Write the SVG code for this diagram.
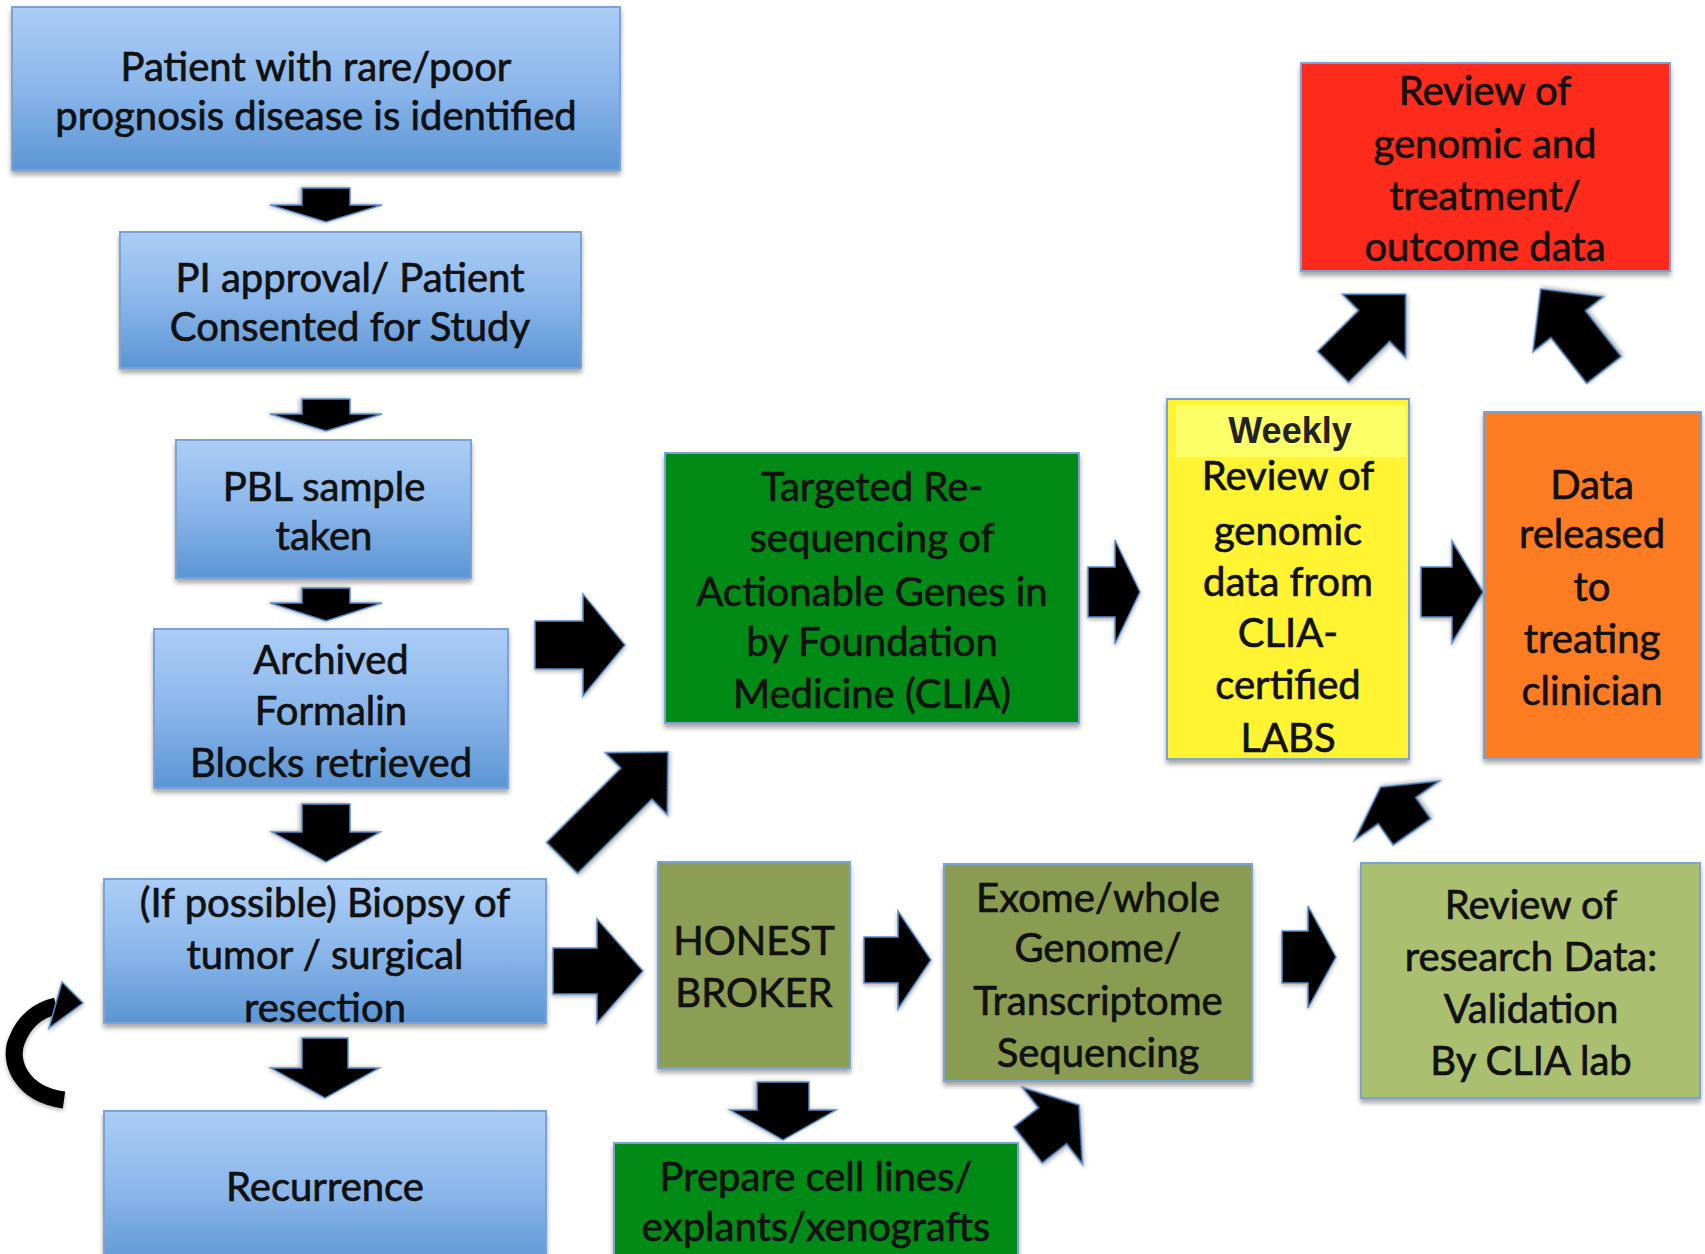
<svg xmlns="http://www.w3.org/2000/svg" width="1705" height="1254" viewBox="0 0 1705 1254">
<defs>
<linearGradient id="blue" x1="0" y1="0" x2="0" y2="1">
<stop offset="0" stop-color="#abcdf7"/>
<stop offset="0.5" stop-color="#8bb6ea"/>
<stop offset="1" stop-color="#5b95d4"/>
</linearGradient>
<filter id="sh" x="-5%" y="-5%" width="110%" height="115%">
<feDropShadow dx="0" dy="4" stdDeviation="2.5" flood-color="#000" flood-opacity="0.35"/>
</filter>
<filter id="ash" x="-20%" y="-20%" width="140%" height="140%">
<feDropShadow dx="0" dy="2" stdDeviation="2" flood-color="#000" flood-opacity="0.3"/>
</filter>
<style>
.box{stroke:#7aa3d3;stroke-width:2;filter:url(#sh)}
.bl{fill:url(#blue)}
.t{font-family:Lato,"Liberation Sans",sans-serif;font-size:40px;fill:#111;stroke:#111;stroke-width:0.7;text-anchor:middle}
.wk{font-family:"Liberation Sans",Arial,sans-serif;font-size:36px;font-weight:bold;fill:#222;text-anchor:middle}
.ar{fill:#000;stroke:#5a8ec8;stroke-width:1.5;stroke-linejoin:miter;filter:url(#ash)}
.cv{fill:none;stroke:#000;stroke-width:17;filter:url(#ash)}
</style>
</defs>
<rect width="1705" height="1254" fill="#fff"/>

<g id="connectors">
<polygon class="ar" transform="translate(326,188) rotate(90)" points="0,-24 17,-24 17,-56 34,0 17,56 17,24 0,24"/>
<polygon class="ar" transform="translate(326,399) rotate(90)" points="0,-24 15,-24 15,-56 32,0 15,56 15,24 0,24"/>
<polygon class="ar" transform="translate(326,588) rotate(90)" points="0,-24 15,-24 15,-56 33,0 15,56 15,24 0,24"/>
<polygon class="ar" transform="translate(326,804) rotate(90)" points="0,-24 28,-24 28,-54 58,0 28,54 28,24 0,24"/>
<polygon class="ar" transform="translate(325,1038) rotate(90)" points="0,-23 30,-23 30,-54 60,0 30,54 30,23 0,23"/>
<polygon class="ar" transform="translate(535,645)" points="0,-24 48,-24 48,-51 90,0 48,51 48,24 0,24"/>
<polygon class="ar" transform="translate(562,858) rotate(-45)" points="0,-22 105,-22 105,-44 150,0 105,44 105,22 0,22"/>
<polygon class="ar" transform="translate(553,971)" points="0,-23 44,-23 44,-52 90,0 44,52 44,23 0,23"/>
<polygon class="ar" transform="translate(864,960)" points="0,-23 34,-23 34,-49 67,0 34,49 34,23 0,23"/>
<polygon class="ar" transform="translate(783,1082) rotate(90)" points="0,-26 28,-26 28,-53 58,0 28,53 28,26 0,26"/>
<polygon class="ar" transform="translate(1028,1145) rotate(-38)" points="0,-23 31,-23 31,-49 65,0 31,49 31,23 0,23"/>
<polygon class="ar" transform="translate(1282,957)" points="0,-26 26,-26 26,-51 54,0 26,51 26,26 0,26"/>
<polygon class="ar" transform="translate(1412,832) rotate(-125)" points="0,-23 26,-23 26,-52 55,0 26,52 26,23 0,23"/>
<polygon class="ar" transform="translate(1088,592)" points="0,-25 27,-25 27,-52 52,0 27,52 27,25 0,25"/>
<polygon class="ar" transform="translate(1421,592)" points="0,-25 31,-25 31,-51 62,0 31,51 31,25 0,25"/>
<polygon class="ar" transform="translate(1333,367) rotate(-45)" points="0,-22 58,-22 58,-45 103,0 58,45 58,22 0,22"/>
<polygon class="ar" transform="translate(1604,370) rotate(-128)" points="0,-22 58,-22 58,-45 103,0 58,45 58,22 0,22"/>
<path class="cv" d="M 64 1100 C 20 1094, 8 1060, 17 1040 C 24 1022, 38 1010, 56 1006"/>
<polygon class="ar" points="62,982 83,1003 49,1028"/>
</g>

<g id="n1"><rect class="box bl" x="12" y="7" width="608" height="163"/>
<text class="t" x="316" y="81">Patient with rare/poor</text>
<text class="t" x="316" y="130">prognosis disease is identified</text></g>

<g id="n2"><rect class="box bl" x="120" y="232" width="461" height="136"/>
<text class="t" x="350" y="292">PI approval/ Patient</text>
<text class="t" x="350" y="341">Consented for Study</text></g>

<g id="n3"><rect class="box bl" x="176" y="440" width="295" height="138"/>
<text class="t" x="324" y="501">PBL sample</text>
<text class="t" x="324" y="550">taken</text></g>

<g id="n4"><rect class="box bl" x="154" y="629" width="354" height="159"/>
<text class="t" x="331" y="674">Archived</text>
<text class="t" x="331" y="725">Formalin</text>
<text class="t" x="331" y="777">Blocks retrieved</text></g>

<g id="n5"><rect class="box bl" x="104" y="879" width="442" height="144"/>
<text class="t" x="325" y="917">(If possible) Biopsy of</text>
<text class="t" x="325" y="969">tumor / surgical</text>
<text class="t" x="325" y="1022">resection</text></g>

<g id="n6"><rect class="box bl" x="104" y="1111" width="442" height="160"/>
<text class="t" x="325" y="1201">Recurrence</text></g>

<g id="n7"><rect class="box" fill="#008a17" x="665" y="453" width="414" height="270"/>
<text class="t" x="872" y="501">Targeted Re-</text>
<text class="t" x="872" y="552">sequencing of</text>
<text class="t" x="872" y="606">Actionable Genes in</text>
<text class="t" x="872" y="656">by Foundation</text>
<text class="t" x="872" y="708">Medicine (CLIA)</text></g>

<g id="n8"><rect class="box" fill="#fff332" x="1167" y="399" width="242" height="360"/>
<rect x="1176" y="405" width="230" height="52" fill="#ffff66"/>
<text class="wk" x="1290" y="443">Weekly</text>
<text class="t" x="1288" y="490">Review of</text>
<text class="t" x="1288" y="545">genomic</text>
<text class="t" x="1288" y="596">data from</text>
<text class="t" x="1288" y="647">CLIA-</text>
<text class="t" x="1288" y="699">certified</text>
<text class="t" x="1288" y="752">LABS</text></g>

<g id="n9"><rect class="box" fill="#fd7b23" x="1484" y="412" width="217" height="346"/>
<text class="t" x="1592" y="499">Data</text>
<text class="t" x="1592" y="548">released</text>
<text class="t" x="1592" y="601">to</text>
<text class="t" x="1592" y="653">treating</text>
<text class="t" x="1592" y="705">clinician</text></g>

<g id="n10"><rect class="box" fill="#fe2a1b" x="1301" y="63" width="369" height="208"/>
<text class="t" x="1485" y="105">Review of</text>
<text class="t" x="1485" y="158">genomic and</text>
<text class="t" x="1485" y="210">treatment/</text>
<text class="t" x="1485" y="261">outcome data</text></g>

<g id="n11"><rect class="box" fill="#8b9e52" x="658" y="862" width="192" height="206"/>
<text class="t" x="754" y="955">HONEST</text>
<text class="t" x="754" y="1007">BROKER</text></g>

<g id="n12"><rect class="box" fill="#899c51" x="944" y="864" width="308" height="217"/>
<text class="t" x="1098" y="912">Exome/whole</text>
<text class="t" x="1098" y="962">Genome/</text>
<text class="t" x="1098" y="1015">Transcriptome</text>
<text class="t" x="1098" y="1067">Sequencing</text></g>

<g id="n13"><rect class="box" fill="#aabf6f" x="1361" y="863" width="339" height="235"/>
<text class="t" x="1531" y="919">Review of</text>
<text class="t" x="1531" y="971">research Data:</text>
<text class="t" x="1531" y="1023">Validation</text>
<text class="t" x="1531" y="1075">By CLIA lab</text></g>

<g id="n14"><rect class="box" fill="#008a17" x="614" y="1143" width="404" height="130"/>
<text class="t" x="816" y="1191">Prepare cell lines/</text>
<text class="t" x="816" y="1241">explants/xenografts</text></g>
</svg>
